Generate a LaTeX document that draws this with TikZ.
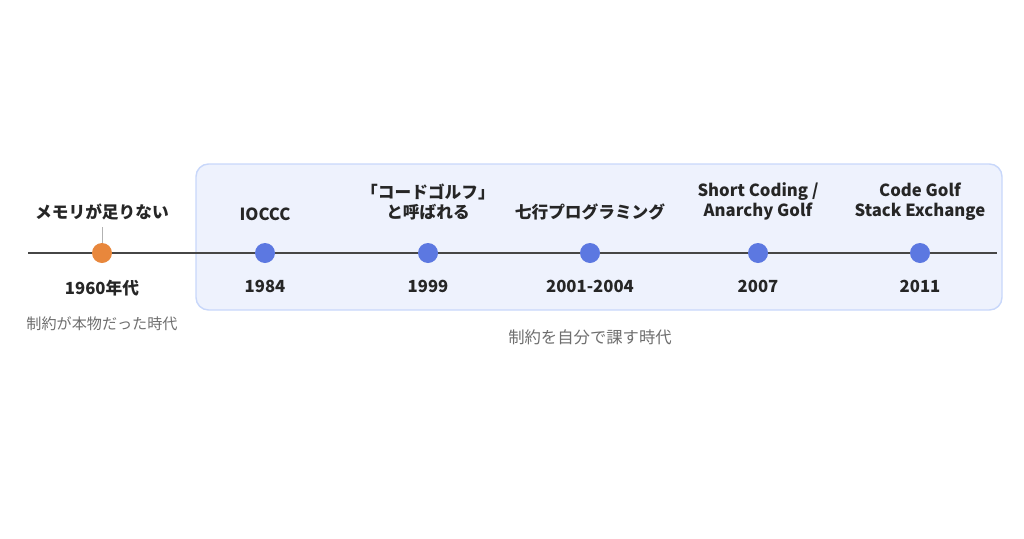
\documentclass[tikz,border=0pt]{standalone}
\usepackage{fontspec}
\setmainfont{Noto Sans CJK JP}
\usepackage{tikz}
\usetikzlibrary{positioning}
\definecolor{axisgray}{RGB}{70,70,70}
\definecolor{dotorange}{RGB}{232,135,60}
\definecolor{dotblue}{RGB}{92,120,225}
\definecolor{boxfill}{RGB}{238,242,253}
\definecolor{boxline}{RGB}{200,215,250}
\definecolor{notegray}{RGB}{110,110,110}
\begin{document}
\begin{tikzpicture}[x=0.02cm, y=-0.02cm]
	% Define styles
	\tikzset{
		era/.style={draw=boxline, fill=boxfill, rounded corners=0.25cm, line width=0.8pt},
		axis/.style={draw=axisgray, line width=1.2pt},
		event/.style={circle, fill=dotblue, minimum size=0.4cm, inner sep=0pt},
		oldevent/.style={event, fill=dotorange},
		lbl/.style={font=\fontsize{9.5}{11.5}\selectfont\bfseries, text=black!85, align=center, inner sep=0pt},
		year/.style={font=\fontsize{9.5}{11.5}\selectfont\bfseries, text=black!85, inner sep=0pt},
		note/.style={font=\fontsize{8.6}{10}\selectfont, text=notegray, inner sep=0pt}
	}
	\useasboundingbox (0,0) rectangle (1024,538);
	
	% Era box
	\draw[era] (196,164) rectangle (1002,310);
	
	% Axis ends
	\coordinate (start) at (28,253);
	\coordinate (end) at (997,253);
	\draw[axis] (start) -- (end);
	
	% Events
	\node[oldevent] (e0) at (102,253) {};
	\node[event] (e1) at (265,253) {};
	\node[event] (e2) at (428,253) {};
	\node[event] (e3) at (590,253) {};
	\node[event] (e4) at (758,253) {};
	\node[event] (e5) at (920,253) {};
	
	\node[lbl, above=0.44cm of e0] (t0) {メモリが足りない};
	\node[lbl, above=0.44cm of e1] (t1) {IOCCC};
	\node[lbl, above=0.44cm of e2] (t2) {「コードゴルフ」\\と呼ばれる};
	\node[lbl, above=0.44cm of e3] (t3) {七行プログラミング};
	\node[lbl, above=0.44cm of e4] (t4) {Short Coding /\\Anarchy Golf};
	\node[lbl, above=0.44cm of e5] (t5) {Code Golf\\Stack Exchange};
	
	\node[year, below=0.32cm of e0] (y0) {1960年代};
	\node[year, below=0.32cm of e1] (y1) {1984};
	\node[year, below=0.32cm of e2] (y2) {1999};
	\node[year, below=0.32cm of e3] (y3) {2001-2004};
	\node[year, below=0.32cm of e4] (y4) {2007};
	\node[year, below=0.32cm of e5] (y5) {2011};
	
	\node[note, below=0.4cm of y0] (n0) {制約が本物だった時代};
	\node[note, font=\fontsize{9.3}{11}\selectfont, below=0.74cm of y3] (n1) {制約を自分で課す時代};
	
	% Tick
	\draw[black!30, line width=0.4pt] (e0) -- ([yshift=-0.12cm]t0.south);
\end{tikzpicture}
\end{document}
